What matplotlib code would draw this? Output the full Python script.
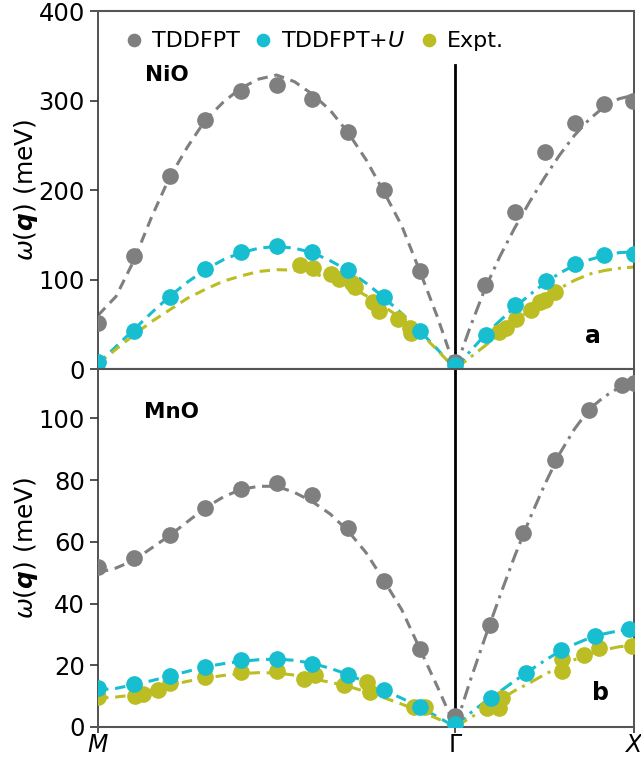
import numpy as np
import matplotlib
matplotlib.use('Agg')
import matplotlib.pyplot as plt


#***************************************************************************
#*********************************DATA**************************************
#***************************************************************************

# q-path: M -> Gamma is 0..1, Gamma -> X is 1..1.5
path_ticks = [0.0, 1.0, 1.5]
path_labels = ['$M$', '$\\Gamma$', '$X$']

# grids on which the fitted dispersions are tabulated
fit_x_left = np.linspace(0.0, 1.0, 21)
fit_x_right = np.linspace(1.0, 1.5, 13)

# computed points along M-Gamma
calc_x_left = [0.0, 0.1, 0.2, 0.3, 0.4, 0.5, 0.6, 0.7, 0.8, 0.9, 1.0]

#---------------------------------- NiO ------------------------------------
nio_tddfpt_left = [51, 126, 216, 278, 311, 317, 302, 265, 200, 110, 8]
nio_tddfpt_x_right = [1.084, 1.168, 1.252, 1.336, 1.417, 1.498]
nio_tddfpt_right = [94, 175, 243, 275, 296, 300]

nio_u_left = [8, 43, 81, 112, 131, 138, 131, 111, 81, 43, 4]
nio_u_x_right = [1.086, 1.168, 1.254, 1.336, 1.417, 1.5]
nio_u_right = [37.5, 71.5, 98, 117, 127, 128.5]

nio_expt_x = [0.564, 0.601, 0.652, 0.673, 0.711, 0.72, 0.769, 0.785, 0.839, 0.872, 0.876,
	1.123, 1.143, 1.171, 1.212, 1.238, 1.252, 1.278]
nio_expt = [116, 113, 106, 100.5, 96, 91.6, 75, 65, 55.5, 45.5, 40.5,
	41, 45.5, 55.5, 66, 75, 77, 85.7]

nio_fit_tddfpt_left = [60, 81, 121, 170, 214, 248, 278, 298, 314, 324, 328.5,
	321, 307, 289, 264, 234, 198, 160, 110, 58, 0]
nio_fit_tddfpt_right = [0, 47, 90, 126, 158, 187, 214, 239, 261, 279, 293, 302, 306]
nio_fit_u_left = [6, 25, 44, 63, 81, 97, 111, 122, 130, 135, 137,
	135, 130, 121, 110, 96, 80, 62, 43, 22, 0]
nio_fit_u_right = [0, 20, 38, 54, 69, 83, 96, 107, 116, 122, 127, 130, 131]
nio_fit_expt_left = [6, 22, 38, 53, 66, 79, 89, 98, 104, 109, 111,
	110.5, 107, 101, 93, 82, 70, 56, 41, 21, 0]
nio_fit_expt_right = [0, 13, 26, 40, 53, 66, 79, 90, 99, 106, 110, 112.5, 114]

#---------------------------------- MnO ------------------------------------
mno_tddfpt_left = [51.8, 54.9, 62.2, 70.9, 77.2, 79, 75.2, 64.4, 47.4, 25.2, 3.5]
mno_tddfpt_x_right = [1.096, 1.19, 1.28, 1.373, 1.467, 1.5]
mno_tddfpt_right = [33, 62.8, 86.6, 102.7, 110.8, 111.6]

mno_u_left = [12.5, 13.9, 16.5, 19.5, 21.7, 22, 20.4, 16.9, 12, 6.4, 1.1]
mno_u_x_right = [1.1, 1.199, 1.297, 1.392, 1.485]
mno_u_right = [9.3, 17.6, 24.9, 29.6, 31.7]

mno_expt_x = [0.0, 0.102, 0.127, 0.167, 0.202, 0.3, 0.4, 0.5, 0.577, 0.608, 0.689, 0.754, 0.76,
	0.883, 0.916, 1.089, 1.123, 1.131, 1.299, 1.299, 1.359, 1.401, 1.495]
mno_expt = [9.6, 10.0, 10.7, 12, 14.1, 16.1, 17.8, 18.2, 15.7, 16.9, 13.6, 14.7, 11.4,
	6.4, 6.4, 6.1, 6.1, 9.3, 22.0, 18.3, 23.3, 25.5, 26.3]

mno_fit_tddfpt_left = [50, 51.5, 54, 58, 62, 66.5, 71, 74.5, 77, 78, 78,
	76, 73, 69, 63.5, 56.5, 47.5, 38, 25.5, 13, 0]
mno_fit_tddfpt_right = [0, 15, 29, 42.5, 55.5, 67.5, 78.5, 88.5, 96.5, 103, 107, 110, 112]
mno_fit_u_left = [12, 12.5, 13.7, 15, 16.5, 18, 19.5, 20.5, 21.3, 21.8, 22,
	21.6, 20.6, 19, 17, 14.5, 12, 9.3, 6.5, 3.3, 0]
mno_fit_u_right = [0, 4.5, 8.2, 11.5, 15, 18.3, 21.5, 24.5, 26.8, 28.8, 30.2, 31.2, 31.7]
mno_fit_expt_left = [9.3, 9.7, 10.4, 12, 13.5, 14.8, 15.8, 16.7, 17.3, 17.6, 17.5,
	16.8, 15.6, 14.5, 13.2, 11.4, 9.5, 7.4, 5.2, 2.7, 0]
mno_fit_expt_right = [0, 3, 5.8, 8.8, 11.8, 14.3, 17, 19.5, 21.8, 23.6, 25, 26, 26.5]

C_TDDFPT = 'tab:gray'
C_U = 'tab:cyan'
C_EXPT = 'tab:olive'


#***************************************************************************
#**********************GENERAL PURPOSE FUNCTIONS****************************
#***************************************************************************

#function to draw the fitted curves, dashed on M-Gamma and dash-dot on Gamma-X
def plot_fits(ax, fits):
	for color, left, right in fits:
		ax.plot(fit_x_left, left, color=color, lw=2.2, dashes=(3.4, 2.2), zorder=2)
		ax.plot(fit_x_right, right, color=color, lw=2.2, dashes=(4.5, 2.0, 1.0, 2.0), zorder=2)

#function to draw the points of one data set
def plot_points(ax, x, y, color, label=None):
	ax.plot(x, y, ls='none', marker='o', ms=11, color=color, label=label, zorder=3)

#function to style one panel
def style_panel(ax, ymax, yticks, gamma_top):
	ax.set_xlim(0, 1.5)
	ax.set_ylim(0, ymax)
	ax.set_yticks(yticks)
	ax.axvline(1.0, ymin=0, ymax=gamma_top, color='black', lw=2, zorder=1)
	ax.tick_params(axis='y', labelsize=17.5, width=1.2, length=6, color='#333333')
	ax.tick_params(axis='x', labelsize=17, width=1.2, length=4, pad=0, color='#333333')
	for side in ['top', 'bottom']:
		ax.spines[side].set_color('#555555')
		ax.spines[side].set_linewidth(1.5)
	for side in ['left', 'right']:
		ax.spines[side].set_color('#333333')
		ax.spines[side].set_linewidth(1.2)
	ax.set_ylabel('$\\omega(\\boldsymbol{q})$ (meV)', fontsize=18, labelpad=-1)


#***************************************************************************
#****************************THE MAIN FUNCTION******************************
#***************************************************************************

def main():
	fig, (ax1, ax2) = plt.subplots(2, 1, figsize=(6.41, 7.61), dpi=100, sharex=True)
	fig.subplots_adjust(left=0.153, right=0.989, top=0.9855, bottom=0.0447, hspace=0)

	#NiO panel
	plot_fits(ax1, [(C_TDDFPT, nio_fit_tddfpt_left, nio_fit_tddfpt_right),
		(C_U, nio_fit_u_left, nio_fit_u_right),
		(C_EXPT, nio_fit_expt_left, nio_fit_expt_right)])
	plot_points(ax1, calc_x_left + nio_tddfpt_x_right, nio_tddfpt_left + nio_tddfpt_right, C_TDDFPT, 'TDDFPT')
	plot_points(ax1, nio_expt_x, nio_expt, C_EXPT)
	plot_points(ax1, calc_x_left + nio_u_x_right, nio_u_left + nio_u_right, C_U, 'TDDFPT+$U$')
	ax1.plot([], [], ls='none', marker='o', ms=11, color=C_EXPT, label='Expt.')
	style_panel(ax1, 400, [0, 100, 200, 300, 400], 0.85)
	ax1.text(0.088, 0.82, 'NiO', transform=ax1.transAxes, fontsize=15.5, fontweight='bold', va='center')
	ax1.text(0.923, 0.092, 'a', transform=ax1.transAxes, fontsize=17, fontweight='bold', va='center', ha='center')
	ax1.legend(loc='upper left', ncol=3, frameon=False, fontsize=16, markerscale=0.8,
		handletextpad=0.1, columnspacing=0.36, handlelength=1.4, borderaxespad=0.52, borderpad=0.4)

	#MnO panel
	plot_fits(ax2, [(C_TDDFPT, mno_fit_tddfpt_left, mno_fit_tddfpt_right),
		(C_U, mno_fit_u_left, mno_fit_u_right),
		(C_EXPT, mno_fit_expt_left, mno_fit_expt_right)])
	plot_points(ax2, calc_x_left + mno_tddfpt_x_right, mno_tddfpt_left + mno_tddfpt_right, C_TDDFPT)
	plot_points(ax2, mno_expt_x, mno_expt, C_EXPT)
	plot_points(ax2, calc_x_left + mno_u_x_right, mno_u_left + mno_u_right, C_U)
	style_panel(ax2, 116, [0, 20, 40, 60, 80, 100], 1.0)
	ax2.text(0.086, 0.88, 'MnO', transform=ax2.transAxes, fontsize=15.5, fontweight='bold', va='center')
	ax2.text(0.937, 0.095, 'b', transform=ax2.transAxes, fontsize=17, fontweight='bold', va='center', ha='center')

	ax2.set_xticks(path_ticks)
	ax2.set_xticklabels(path_labels)
	ax1.tick_params(axis='x', length=0)

	fig.savefig('out.png', dpi=100)


#***************************************************************************
#****************************DRIVER CODE************************************
#***************************************************************************

if __name__ == '__main__':
	main()
